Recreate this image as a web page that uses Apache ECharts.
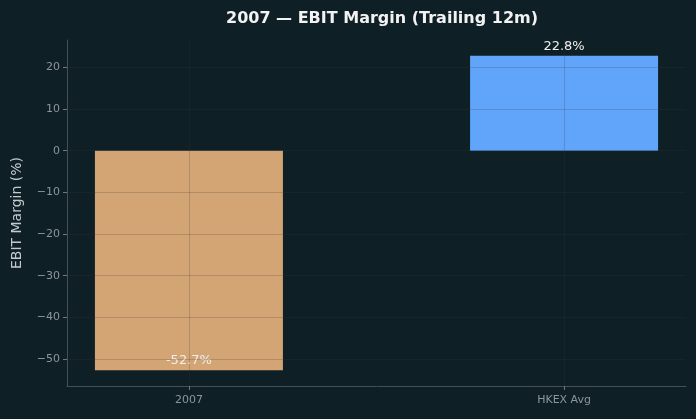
<!DOCTYPE html>
<html>
<head>
<meta charset="utf-8">
<script src="https://cdn.jsdelivr.net/npm/echarts@6/dist/echarts.min.js"></script>
<style>
html,body{margin:0;padding:0;background:#0f1f26;}
#chart{width:696px;height:419px;}
</style>
</head>
<body>
<div id="chart"></div>
<script>
var categories = ['2007', 'HKEX Avg'];
var values = [-52.7, 22.8];
var barColors = ['#d4a574', '#60a5fa'];
var yTicks = [-50, -40, -30, -20, -10, 0, 10, 20];
var xTicks = [0, 1];

var chart = echarts.init(document.getElementById('chart'));

//网格线画在柱子上面
var gridLines = [];
yTicks.forEach(function (v) { gridLines.push({ yAxis: v }); });
xTicks.forEach(function (v) { gridLines.push({ xAxis: v }); });

var option = {
    backgroundColor: '#0f1f26',
    animation: false,
    title: {
        text: '2007 — EBIT Margin (Trailing 12m)',
        left: 377,
        textAlign: 'center',
        top: 6,
        textStyle: { color: '#f2f2f2', fontSize: 16, fontWeight: 'bold', fontFamily: 'DejaVu Sans' }
    },
    grid: { left: 67, right: 10, top: 40, bottom: 33 },
    xAxis: {
        type: 'value',
        min: -0.325,
        max: 1.325,
        axisLine: { show: true, onZero: false, lineStyle: { color: '#454f54' } },
        axisTick: { show: true, customValues: xTicks, length: 4, lineStyle: { color: '#6f787c' } },
        axisLabel: {
            customValues: xTicks,
            color: '#8c9599',
            fontSize: 11,
            fontFamily: 'DejaVu Sans',
            margin: 9,
            formatter: function (v) { return categories[Math.round(v)]; }
        },
        splitLine: { show: false }
    },
    yAxis: {
        type: 'value',
        min: -56.475,
        max: 26.575,
        name: 'EBIT Margin (%)',
        nameLocation: 'middle',
        nameGap: 43,
        nameTextStyle: { color: '#c3cacd', fontSize: 14, fontFamily: 'DejaVu Sans' },
        axisLine: { show: true, onZero: false, lineStyle: { color: '#454f54' } },
        axisTick: { show: true, customValues: yTicks, length: 4, lineStyle: { color: '#6f787c' } },
        axisLabel: {
            customValues: yTicks,
            color: '#8c9599',
            fontSize: 11,
            fontFamily: 'DejaVu Sans',
            margin: 7,
            formatter: function (v) { return String(v).replace('-', '\u2212'); }
        },
        splitLine: { show: false }
    },
    series: [
        {
            type: 'bar',
            barWidth: 188,
            data: values.map(function (v, i) {
                return {
                    value: [i, v],
                    itemStyle: { color: barColors[i] },
                    label: {
                        show: true,
                        position: v < 0 ? 'insideBottom' : 'top',
                        distance: 3,
                        formatter: v.toFixed(1) + '%',
                        color: '#eeeeee',
                        fontSize: 13,
                        fontFamily: 'DejaVu Sans'
                    }
                };
            }),
            markLine: {
                silent: true,
                symbol: 'none',
                label: { show: false },
                lineStyle: { color: 'rgba(60,55,50,0.22)', width: 1, type: 'solid' },
                data: gridLines
            }
        }
    ]
};
//使用刚指定的配置项和数据显示图表。
chart.setOption(option);
</script>
</body>
</html>
